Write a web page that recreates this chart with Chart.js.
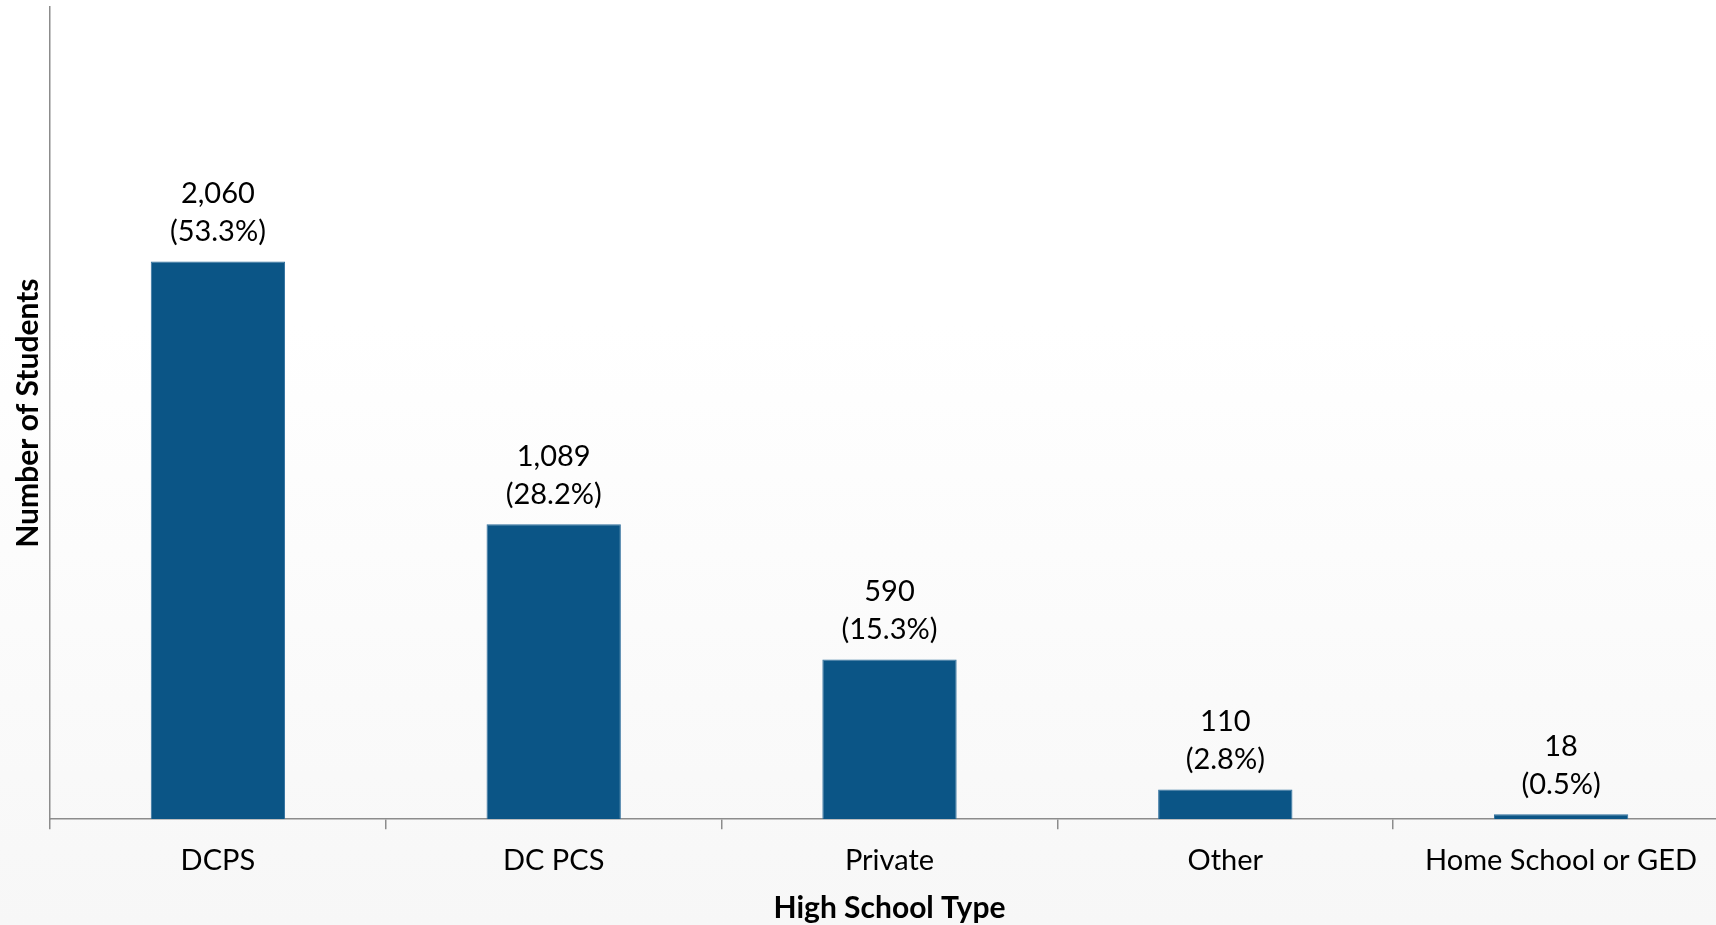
<!DOCTYPE html>
<html>
<head>
<meta charset="utf-8">
<script src="https://cdn.jsdelivr.net/npm/chart.js@4"></script>
<style>
  html, body { margin: 0; padding: 0; width: 1716px; height: 925px; overflow: hidden;
    background: linear-gradient(to bottom, #ffffff 0%, #ffffff 35%, #f7f7f7 100%); }
  #wrap { position: absolute; left: 0; top: 0; width: 1740px; height: 925px; }
</style>
</head>
<body>
<div id="wrap"><canvas id="c"></canvas></div>
<script>
const categories = ["DCPS", "DC PCS", "Private", "Other", "Home School or GED"];
const students = [2060, 1089, 590, 110, 18];
const percents = [53.3, 28.2, 15.3, 2.8, 0.5];
const xTitle = "High School Type";
const yTitle = "Number of Students";

const FONT = "Lato";
const FS = 29;
const FS_TITLE = 30;

const labelPlugin = {
  id: 'barLabels',
  afterDatasetsDraw(chart) {
    const ctx = chart.ctx;
    const meta = chart.getDatasetMeta(0);
    ctx.save();
    ctx.font = FS + "px " + FONT;
    ctx.fillStyle = "#000000";
    ctx.textAlign = "center";
    ctx.textBaseline = "middle";
    meta.data.forEach((bar, i) => {
      const v = students[i].toLocaleString('en-US');
      const p = "(" + percents[i].toFixed(1) + "%)";
      ctx.fillText(p, bar.x, bar.y - 29.5);
      ctx.fillText(v, bar.x, bar.y - 29.5 - 38);
    });
    ctx.restore();
  }
};

new Chart(document.getElementById('c'), {
  type: 'bar',
  data: {
    labels: categories,
    datasets: [{
      data: students,
      backgroundColor: '#0b5586',
      borderColor: '#2f6f9d',
      borderWidth: 1,
      barPercentage: 0.4,
      categoryPercentage: 1.0
    }]
  },
  options: {
    responsive: true,
    maintainAspectRatio: false,
    animation: false,
    devicePixelRatio: 1,
    layout: { padding: { top: 7, right: 11, left: 7, bottom: 0 } },
    plugins: { legend: { display: false }, tooltip: { enabled: false } },
    scales: {
      x: {
        grid: { display: true, drawOnChartArea: false, drawTicks: true, tickLength: 10,
                offset: true, color: '#8c8c8c', lineWidth: 1.5 },
        border: { display: true, color: '#8c8c8c', width: 1.5 },
        ticks: { color: '#000000', padding: 14.5, font: { family: FONT, size: FS }, maxRotation: 0, autoSkip: false },
        title: { display: true, text: xTitle, color: '#000000',
                 font: { family: FONT, size: FS_TITLE, weight: 'bold', lineHeight: 1.0 }, padding: { top: 0, bottom: 2 } }
      },
      y: {
        min: 0, max: 3000,
        grid: { display: false, drawTicks: false },
        border: { display: true, color: '#8c8c8c', width: 1.5 },
        ticks: { display: false },
        title: { display: true, text: yTitle, color: '#000000',
                 font: { family: FONT, size: FS_TITLE, weight: 'bold' }, padding: { top: 3, bottom: 4 } }
      }
    }
  },
  plugins: [labelPlugin]
});
</script>
</body>
</html>
